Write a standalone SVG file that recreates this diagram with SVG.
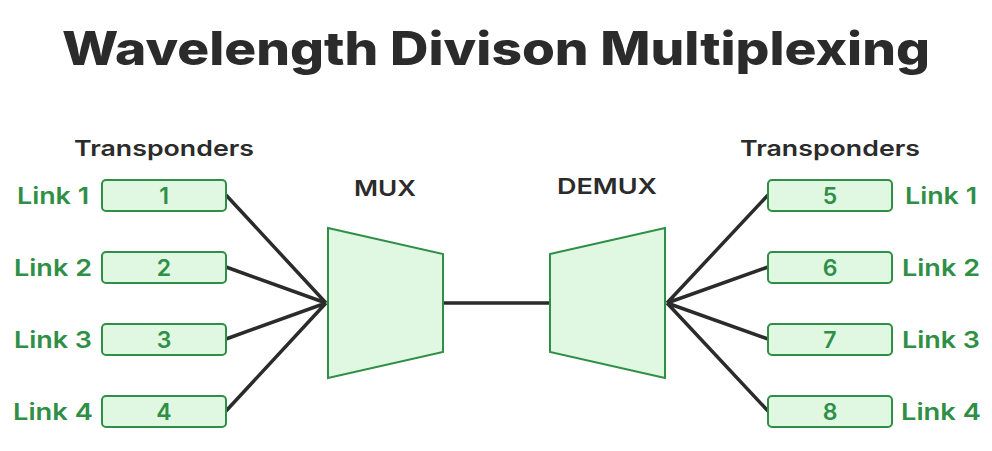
<svg xmlns="http://www.w3.org/2000/svg" width="992" height="451" viewBox="0 0 992 451">
<style>
.box{fill:#e0f7e2;stroke:#2f8f46;stroke-width:2}
.g{fill:#2f8f46;font-family:Inter,"Open Sans",sans-serif;font-weight:600;font-size:23px;text-anchor:middle}
.k{fill:#2b2b2b;font-family:Inter,"Open Sans",sans-serif;font-weight:600;font-size:22px;text-anchor:middle}
.ln{stroke:#2b2b2b;stroke-width:3.5;fill:none}
</style>
<rect width="992" height="451" fill="#fff"/>
<text x="496" y="65" class="k" style="font-size:46px;font-weight:800" textLength="868" lengthAdjust="spacingAndGlyphs">Wavelength Divison Multiplexing</text>
<text x="164" y="156" class="k" textLength="180" lengthAdjust="spacingAndGlyphs">Transponders</text>
<text x="830" y="156" class="k" textLength="180" lengthAdjust="spacingAndGlyphs">Transponders</text>
<text x="385" y="196" class="k" textLength="62" lengthAdjust="spacingAndGlyphs">MUX</text>
<text x="607" y="194" class="k" textLength="100" lengthAdjust="spacingAndGlyphs">DEMUX</text>
<g id="connectors">
<path class="ln" d="M226 195L326 303M226 267L326 303M226 339L326 303M226 411L326 303M443 303H550M768 195L667 303M768 267L667 303M768 339L667 303M768 411L667 303"/>
</g>
<g id="mux"><polygon class="box" points="328,228 443,254 443,352 328,378"/></g>
<g id="demux"><polygon class="box" points="550,254 665,228 665,378 550,352"/></g>
<g id="l1"><rect class="box" x="102" y="180" width="124" height="31" rx="4"/><text x="164" y="204" class="g">1</text><text x="53" y="204" class="g" textLength="72" lengthAdjust="spacingAndGlyphs">Link 1</text></g>
<g id="l2"><rect class="box" x="102" y="252" width="124" height="31" rx="4"/><text x="164" y="276" class="g">2</text><text x="53" y="276" class="g" textLength="78" lengthAdjust="spacingAndGlyphs">Link 2</text></g>
<g id="l3"><rect class="box" x="102" y="324" width="124" height="31" rx="4"/><text x="164" y="348" class="g">3</text><text x="53" y="348" class="g" textLength="78" lengthAdjust="spacingAndGlyphs">Link 3</text></g>
<g id="l4"><rect class="box" x="102" y="396" width="124" height="31" rx="4"/><text x="164" y="420" class="g">4</text><text x="53" y="420" class="g" textLength="80" lengthAdjust="spacingAndGlyphs">Link 4</text></g>
<g id="r1"><rect class="box" x="768" y="180" width="124" height="31" rx="4"/><text x="830" y="204" class="g">5</text><text x="941" y="204" class="g" textLength="72" lengthAdjust="spacingAndGlyphs">Link 1</text></g>
<g id="r2"><rect class="box" x="768" y="252" width="124" height="31" rx="4"/><text x="830" y="276" class="g">6</text><text x="941" y="276" class="g" textLength="78" lengthAdjust="spacingAndGlyphs">Link 2</text></g>
<g id="r3"><rect class="box" x="768" y="324" width="124" height="31" rx="4"/><text x="830" y="348" class="g">7</text><text x="941" y="348" class="g" textLength="78" lengthAdjust="spacingAndGlyphs">Link 3</text></g>
<g id="r4"><rect class="box" x="768" y="396" width="124" height="31" rx="4"/><text x="830" y="420" class="g">8</text><text x="941" y="420" class="g" textLength="80" lengthAdjust="spacingAndGlyphs">Link 4</text></g>
</svg>
